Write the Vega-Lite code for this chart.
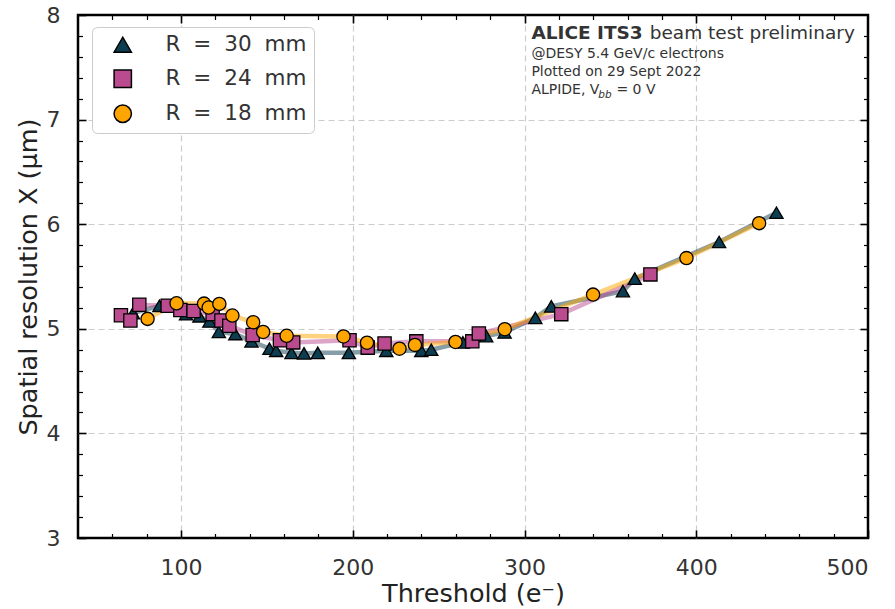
{
  "$schema": "https://vega.github.io/schema/vega-lite/v6.json",
  "width": 790,
  "height": 523,
  "autosize": {"type": "none"},
  "padding": {"left": 78, "top": 15, "right": 27, "bottom": 71},
  "background": "white",
  "config": {
    "font": "DejaVu Sans",
    "view": {"stroke": "black", "strokeWidth": 2.5},
    "axis": {"domain": false}
  },
  "datasets": {
    "pts": [
      {"R": "R = 30 mm", "threshold": 72, "res": 5.15},
      {"R": "R = 30 mm", "threshold": 87.4, "res": 5.22},
      {"R": "R = 30 mm", "threshold": 102.9, "res": 5.14},
      {"R": "R = 30 mm", "threshold": 110.7, "res": 5.12},
      {"R": "R = 30 mm", "threshold": 116.5, "res": 5.07},
      {"R": "R = 30 mm", "threshold": 122.0, "res": 4.97},
      {"R": "R = 30 mm", "threshold": 131.6, "res": 4.95},
      {"R": "R = 30 mm", "threshold": 141.0, "res": 4.88},
      {"R": "R = 30 mm", "threshold": 151.5, "res": 4.81},
      {"R": "R = 30 mm", "threshold": 155.4, "res": 4.79},
      {"R": "R = 30 mm", "threshold": 164.3, "res": 4.77},
      {"R": "R = 30 mm", "threshold": 171.6, "res": 4.765},
      {"R": "R = 30 mm", "threshold": 179.6, "res": 4.77},
      {"R": "R = 30 mm", "threshold": 197.7, "res": 4.77},
      {"R": "R = 30 mm", "threshold": 219.5, "res": 4.79},
      {"R": "R = 30 mm", "threshold": 239.9, "res": 4.79},
      {"R": "R = 30 mm", "threshold": 245.7, "res": 4.8},
      {"R": "R = 30 mm", "threshold": 264.1, "res": 4.87},
      {"R": "R = 30 mm", "threshold": 277.7, "res": 4.93},
      {"R": "R = 30 mm", "threshold": 288.4, "res": 4.965},
      {"R": "R = 30 mm", "threshold": 306.3, "res": 5.105},
      {"R": "R = 30 mm", "threshold": 315.6, "res": 5.215},
      {"R": "R = 30 mm", "threshold": 357.3, "res": 5.36},
      {"R": "R = 30 mm", "threshold": 364.2, "res": 5.48},
      {"R": "R = 30 mm", "threshold": 413.3, "res": 5.83},
      {"R": "R = 30 mm", "threshold": 446.7, "res": 6.11},
      {"R": "R = 24 mm", "threshold": 65.0, "res": 5.13},
      {"R": "R = 24 mm", "threshold": 70.5, "res": 5.08},
      {"R": "R = 24 mm", "threshold": 75.7, "res": 5.23},
      {"R": "R = 24 mm", "threshold": 92.2, "res": 5.22},
      {"R": "R = 24 mm", "threshold": 99.6, "res": 5.18},
      {"R": "R = 24 mm", "threshold": 107.3, "res": 5.17},
      {"R": "R = 24 mm", "threshold": 118.4, "res": 5.14},
      {"R": "R = 24 mm", "threshold": 123.5, "res": 5.08},
      {"R": "R = 24 mm", "threshold": 128.1, "res": 5.03},
      {"R": "R = 24 mm", "threshold": 141.7, "res": 4.94},
      {"R": "R = 24 mm", "threshold": 157.6, "res": 4.89},
      {"R": "R = 24 mm", "threshold": 165.3, "res": 4.87},
      {"R": "R = 24 mm", "threshold": 198.1, "res": 4.89},
      {"R": "R = 24 mm", "threshold": 208.7, "res": 4.82},
      {"R": "R = 24 mm", "threshold": 218.5, "res": 4.86},
      {"R": "R = 24 mm", "threshold": 237.0, "res": 4.88},
      {"R": "R = 24 mm", "threshold": 269.6, "res": 4.88},
      {"R": "R = 24 mm", "threshold": 273.4, "res": 4.955},
      {"R": "R = 24 mm", "threshold": 321.4, "res": 5.14},
      {"R": "R = 24 mm", "threshold": 373.3, "res": 5.52},
      {"R": "R = 18 mm", "threshold": 80.5, "res": 5.095},
      {"R": "R = 18 mm", "threshold": 97.4, "res": 5.244},
      {"R": "R = 18 mm", "threshold": 113.4, "res": 5.241},
      {"R": "R = 18 mm", "threshold": 116.1, "res": 5.203},
      {"R": "R = 18 mm", "threshold": 122.3, "res": 5.238},
      {"R": "R = 18 mm", "threshold": 129.9, "res": 5.127},
      {"R": "R = 18 mm", "threshold": 142.0, "res": 5.063},
      {"R": "R = 18 mm", "threshold": 147.8, "res": 4.97},
      {"R": "R = 18 mm", "threshold": 161.5, "res": 4.933},
      {"R": "R = 18 mm", "threshold": 194.6, "res": 4.927},
      {"R": "R = 18 mm", "threshold": 208.3, "res": 4.867},
      {"R": "R = 18 mm", "threshold": 227.2, "res": 4.81},
      {"R": "R = 18 mm", "threshold": 236.2, "res": 4.846},
      {"R": "R = 18 mm", "threshold": 259.8, "res": 4.874},
      {"R": "R = 18 mm", "threshold": 288.5, "res": 4.996},
      {"R": "R = 18 mm", "threshold": 339.9, "res": 5.327},
      {"R": "R = 18 mm", "threshold": 394.3, "res": 5.676},
      {"R": "R = 18 mm", "threshold": 436.6, "res": 6.01}
    ]
  },
  "data": {"name": "pts"},
  "resolve": {"axis": {"x": "independent", "y": "independent"}},
  "layer": [
    {
      "mark": {"type": "line", "strokeWidth": 4.5, "opacity": 0.5},
      "encoding": {
        "x": {
          "field": "threshold", "type": "quantitative",
          "scale": {"domain": [40, 500], "nice": false, "zero": false},
          "axis": {
            "orient": "bottom", "values": [100, 200, 300, 400, 500],
            "ticks": true, "tickSize": 8, "offset": -8, "tickWidth": 1.6, "tickColor": "black",
            "grid": true, "labels": true,
            "labelFontSize": 22, "labelPadding": 19, "labelColor": "#333333",
            "title": "Threshold (e⁻)", "titleFontSize": 25.5, "titleFontWeight": "normal",
            "titleColor": "#222222", "titlePadding": 3,
            "gridDash": [6, 4], "gridColor": "#cccccc", "gridWidth": 1.2,
            "gridOpacity": {"condition": {"test": "datum.value >= 500 || datum.value <= 40", "value": 0}, "value": 1}
          }
        },
        "y": {
          "field": "res", "type": "quantitative",
          "scale": {"domain": [3, 8], "nice": false, "zero": false},
          "axis": {
            "orient": "left", "values": [3, 4, 5, 6, 7, 8],
            "ticks": true, "tickSize": 8, "offset": -8, "tickWidth": 1.6, "tickColor": "black",
            "grid": true, "labels": true,
            "labelFontSize": 22, "labelPadding": 18, "labelColor": "#333333",
            "title": "Spatial resolution X (μm)", "titleFontSize": 25.5, "titleFontWeight": "normal",
            "titleColor": "#222222", "titlePadding": 5,
            "gridDash": [6, 4], "gridColor": "#cccccc", "gridWidth": 1.2,
            "gridOpacity": {"condition": {"test": "datum.value >= 8 || datum.value <= 3", "value": 0}, "value": 1}
          }
        },
        "color": {
          "field": "R", "type": "nominal",
          "scale": {"domain": ["R = 18 mm", "R = 24 mm", "R = 30 mm"], "range": ["#ffa500", "#bb4b8f", "#0c3d50"]},
          "legend": null
        }
      }
    },
    {
      "mark": {"type": "point", "filled": true, "stroke": "black", "strokeWidth": 1.3, "opacity": 1, "size": 175},
      "encoding": {
        "x": {"field": "threshold", "type": "quantitative", "axis": null},
        "y": {"field": "res", "type": "quantitative", "axis": null},
        "shape": {
          "field": "R", "type": "nominal",
          "scale": {"domain": ["R = 30 mm", "R = 24 mm", "R = 18 mm"], "range": ["triangle-up", "square", "circle"]},
          "legend": {
            "title": null, "orient": "none", "legendX": 14, "legendY": 12,
            "labelFontSize": 21.5, "labelColor": "#333333", "labelFont": "DejaVu Sans",
            "symbolSize": 300, "rowPadding": 11, "padding": 7, "symbolOffset": 13, "labelOffset": 32,
            "fillColor": "white", "strokeColor": "#cccccc", "cornerRadius": 5,
            "labelExpr": "replace(datum.label, / /g, '\u2002\u200a')",
            "encode": {"symbols": {"update": {"stroke": {"value": "black"}, "strokeWidth": {"value": 1.5}}}}
          }
        },
        "fill": {
          "field": "R", "type": "nominal",
          "scale": {"domain": ["R = 30 mm", "R = 24 mm", "R = 18 mm"], "range": ["#0c3d50", "#bb4b8f", "#ffa500"]},
          "legend": {
            "title": null, "orient": "none", "legendX": 14, "legendY": 12,
            "labelFontSize": 21.5, "labelColor": "#333333", "labelFont": "DejaVu Sans",
            "symbolSize": 300, "rowPadding": 11, "padding": 7, "symbolOffset": 13, "labelOffset": 32,
            "fillColor": "white", "strokeColor": "#cccccc", "cornerRadius": 5,
            "labelExpr": "replace(datum.label, / /g, '\u2002\u200a')",
            "encode": {"symbols": {"update": {"stroke": {"value": "black"}, "strokeWidth": {"value": 1.5}}}}
          }
        }
      }
    },
    {
      "mark": {"type": "point", "opacity": 0},
      "encoding": {
        "x": {
          "field": "threshold", "type": "quantitative",
          "axis": {"orient": "bottom", "values": [60, 80, 120, 140, 160, 180, 220, 240, 260, 280, 320, 340, 360, 380, 420, 440, 460, 480], "labels": false, "grid": false, "ticks": true, "tickSize": 4.5, "offset": -4.5, "tickWidth": 1.2, "tickColor": "black", "title": null}
        },
        "y": {
          "field": "res", "type": "quantitative",
          "axis": {"orient": "left", "values": [3.2, 3.4, 3.6, 3.8, 4.2, 4.4, 4.6, 4.8, 5.2, 5.4, 5.6, 5.8, 6.2, 6.4, 6.6, 6.8, 7.2, 7.4, 7.6, 7.8], "labels": false, "grid": false, "ticks": true, "tickSize": 4.5, "offset": -4.5, "tickWidth": 1.2, "tickColor": "black", "title": null}
        }
      }
    },
    {
      "mark": {"type": "point", "opacity": 0},
      "encoding": {
        "x": {
          "field": "threshold", "type": "quantitative",
          "axis": {"orient": "top", "values": [100, 200, 300, 400], "labels": false, "grid": false, "ticks": true, "tickSize": 8, "offset": -8, "tickWidth": 1.6, "tickColor": "black", "title": null}
        },
        "y": {
          "field": "res", "type": "quantitative",
          "axis": {"orient": "right", "values": [4, 5, 6, 7], "labels": false, "grid": false, "ticks": true, "tickSize": 8, "offset": -8, "tickWidth": 1.6, "tickColor": "black", "title": null}
        }
      }
    },
    {
      "mark": {"type": "point", "opacity": 0},
      "encoding": {
        "x": {
          "field": "threshold", "type": "quantitative",
          "axis": {"orient": "top", "values": [60, 80, 120, 140, 160, 180, 220, 240, 260, 280, 320, 340, 360, 380, 420, 440, 460, 480], "labels": false, "grid": false, "ticks": true, "tickSize": 4.5, "offset": -4.5, "tickWidth": 1.2, "tickColor": "black", "title": null}
        },
        "y": {
          "field": "res", "type": "quantitative",
          "axis": {"orient": "right", "values": [3.2, 3.4, 3.6, 3.8, 4.2, 4.4, 4.6, 4.8, 5.2, 5.4, 5.6, 5.8, 6.2, 6.4, 6.6, 6.8, 7.2, 7.4, 7.6, 7.8], "labels": false, "grid": false, "ticks": true, "tickSize": 4.5, "offset": -4.5, "tickWidth": 1.2, "tickColor": "black", "title": null}
        }
      }
    },
    {
      "data": {"values": [{}]},
      "mark": {"type": "text", "text": "ALICE ITS3", "align": "left", "baseline": "alphabetic", "fontSize": 18.5, "fontWeight": "bold", "color": "#333333"},
      "encoding": {
        "x": {"datum": 304.0, "type": "quantitative", "axis": null},
        "y": {"datum": 7.77, "type": "quantitative", "axis": null}
      }
    },
    {
      "data": {"values": [{}]},
      "mark": {"type": "text", "text": "beam test preliminary", "align": "left", "baseline": "alphabetic", "fontSize": 18.5, "color": "#333333"},
      "encoding": {
        "x": {"datum": 372.9, "type": "quantitative", "axis": null},
        "y": {"datum": 7.77, "type": "quantitative", "axis": null}
      }
    },
    {
      "data": {"values": [{}]},
      "mark": {"type": "text", "text": "@DESY 5.4 GeV/c electrons", "align": "left", "baseline": "alphabetic", "fontSize": 14, "color": "#333333"},
      "encoding": {
        "x": {"datum": 304.0, "type": "quantitative", "axis": null},
        "y": {"datum": 7.593, "type": "quantitative", "axis": null}
      }
    },
    {
      "data": {"values": [{}]},
      "mark": {"type": "text", "text": "Plotted on 29 Sept 2022", "align": "left", "baseline": "alphabetic", "fontSize": 14, "color": "#333333"},
      "encoding": {
        "x": {"datum": 304.0, "type": "quantitative", "axis": null},
        "y": {"datum": 7.417, "type": "quantitative", "axis": null}
      }
    },
    {
      "data": {"values": [{}]},
      "mark": {"type": "text", "text": "ALPIDE, V", "align": "left", "baseline": "alphabetic", "fontSize": 14, "color": "#333333"},
      "encoding": {
        "x": {"datum": 304.0, "type": "quantitative", "axis": null},
        "y": {"datum": 7.241, "type": "quantitative", "axis": null}
      }
    },
    {
      "data": {"values": [{}]},
      "mark": {"type": "text", "text": "bb", "align": "left", "baseline": "alphabetic", "fontSize": 10.5, "fontStyle": "italic", "color": "#333333"},
      "encoding": {
        "x": {"datum": 343.0, "type": "quantitative", "axis": null},
        "y": {"datum": 7.208, "type": "quantitative", "axis": null}
      }
    },
    {
      "data": {"values": [{}]},
      "mark": {"type": "text", "text": "= 0 V", "align": "left", "baseline": "alphabetic", "fontSize": 14, "color": "#333333"},
      "encoding": {
        "x": {"datum": 353.5, "type": "quantitative", "axis": null},
        "y": {"datum": 7.241, "type": "quantitative", "axis": null}
      }
    }
  ]
}
